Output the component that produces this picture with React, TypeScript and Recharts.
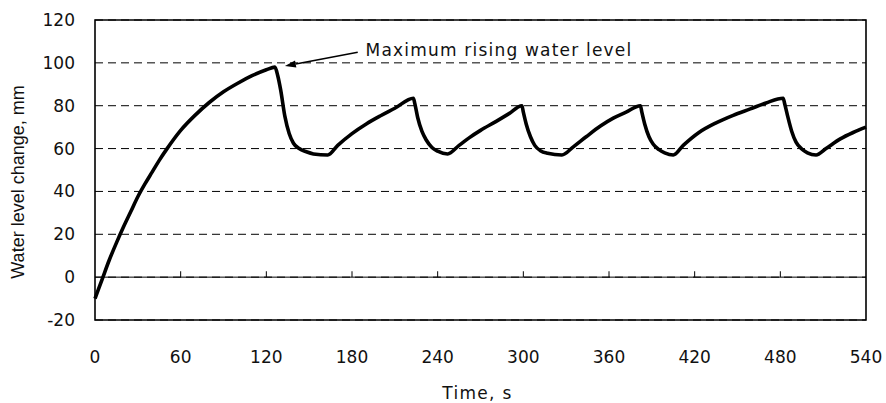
import React from "react";
import {
  LineChart,
  Line,
  XAxis,
  YAxis,
  CartesianGrid,
  ReferenceLine,
  ReferenceArea,
  ReferenceDot,
} from "recharts";

// time (s) and water level change (mm)
const timeS = [
  0, 5, 10, 15, 20, 25, 30, 35, 40, 45, 50, 60, 70, 80, 90, 100, 110, 120, 126,
  128, 130, 133, 136, 139, 143, 148, 153, 163,
  170, 180, 190, 200, 210, 223,
  224, 226, 229, 232, 236, 240, 247,
  255, 262, 270, 281, 290, 299,
  300, 302, 305, 308, 312, 317, 327,
  335, 344, 354, 363, 372, 382,
  383, 385, 388, 391, 395, 399, 405,
  412, 423, 435, 447, 459, 470, 482,
  483, 485, 488, 491, 495, 499, 505,
  512, 522, 531, 540,
];
const levelMm = [
  -10, -1, 8, 16, 23.5, 30.5, 37.5, 43.5, 49, 54.5, 59.5, 68.5, 75.5, 81.5, 86.5, 90.5, 94, 96.8, 98,
  94, 87.5, 75, 67, 62.5, 60, 58.5, 57.5, 57,
  61.5, 67, 71.5, 75.3, 78.8, 83.5,
  81, 74.5, 68, 64, 60.5, 58.8, 57.5,
  61.5, 65, 68.5, 72.7, 76.3, 80,
  77, 71.5, 65.5, 61.5, 59, 57.8, 57,
  60.8, 65.5, 70.5, 74.2, 77, 80,
  77, 71.5, 65.5, 62, 59.5, 58, 57,
  61.5, 67.5, 72, 75.5, 78.5, 81.3, 83.5,
  81, 75.5, 68, 63, 59.8, 58, 57,
  60, 64.5, 67.5, 70,
];

const xTicks = [0, 60, 120, 180, 240, 300, 360, 420, 480, 540];
const yTicks = [-20, 0, 20, 40, 60, 80, 100, 120];

// annotation: arrow from label to the first peak
const peakPoint = { x: 133, y: 98.5 };
const arrowTail = { x: 184, y: 105 };
const noteAnchor = { x: 186, y: 106 };
const noteText = "Maximum rising water level";

const data = timeS.map((t, i) => ({ t, level: levelMm[i] }));

const FONT = "'DejaVu Sans', sans-serif";

const Arrow = (p: any) => {
  const { x1, y1, x2, y2 } = p;
  const ang = Math.atan2(y2 - y1, x2 - x1);
  const len = 11;
  const w = 3.5;
  const bx = x2 - len * Math.cos(ang);
  const by = y2 - len * Math.sin(ang);
  const px = -Math.sin(ang) * w;
  const py = Math.cos(ang) * w;
  return (
    <g>
      <line x1={x1} y1={y1} x2={bx} y2={by} stroke="#000" strokeWidth={1.5} />
      <polygon
        points={`${x2},${y2} ${bx + px},${by + py} ${bx - px},${by - py}`}
        fill="#000"
      />
    </g>
  );
};

const YTitle = () => (
  <text
    x={18}
    y={182}
    transform="rotate(-90 18 182)"
    textAnchor="middle"
    dominantBaseline="central"
    fontFamily="'Liberation Sans', Arial, sans-serif"
    fontSize={18}
    fill="#111"
  >
    Water level change, mm
  </text>
);

export default function App() {
  return (
    <div style={{ position: "absolute", left: 0, top: 0, background: "#fff" }}>
      <LineChart
        width={886}
        height={403}
        data={data}
        margin={{ top: 20, right: 20, left: 0, bottom: 0 }}
      >
        <CartesianGrid
          horizontal
          vertical={false}
          stroke="#000"
          strokeDasharray="8 5"
          strokeWidth={1}
        />
        <XAxis
          dataKey="t"
          type="number"
          domain={[0, 540]}
          ticks={xTicks}
          interval={0}
          height={83}
          axisLine={false}
          tickLine={false}
          tickSize={0}
          tickMargin={31}
          tick={{ fontSize: 17, fill: "#111", fontFamily: FONT }}
          label={{
            value: "Time, s",
            position: "insideBottom",
            offset: 4,
            dx: -3,
            style: { fontSize: 17, fill: "#111", fontFamily: FONT, letterSpacing: 1.3 },
          }}
        />
        <YAxis
          type="number"
          domain={[-20, 120]}
          ticks={yTicks}
          interval={0}
          width={95}
          axisLine={false}
          tickLine={false}
          tickSize={0}
          tickMargin={20}
          tick={{ fontSize: 17, fill: "#111", fontFamily: FONT }}
          label={{ content: YTitle }}
        />
        <ReferenceLine y={0} stroke="#000" strokeWidth={1} />
        {xTicks.slice(1, -1).map((v) => (
          <ReferenceLine
            key={v}
            segment={[{ x: v, y: 0 }, { x: v, y: 2.75 }]}
            stroke="#000"
            strokeWidth={1}
          />
        ))}
        <ReferenceArea
          x1={0}
          x2={540}
          y1={-20}
          y2={120}
          fill="none"
          fillOpacity={0}
          stroke="#000"
          strokeWidth={1.6}
        />
        <Line
          type="monotone"
          dataKey="level"
          stroke="#000"
          strokeWidth={3.6}
          dot={false}
          isAnimationActive={false}
        />
        <ReferenceLine
          segment={[arrowTail, peakPoint]}
          shape={Arrow}
        />
        <ReferenceDot
          x={noteAnchor.x}
          y={noteAnchor.y}
          r={0}
          fill="none"
          stroke="none"
          label={{
            value: noteText,
            position: "right",
            offset: 5,
            style: { fontSize: 17, fill: "#111", fontFamily: FONT, letterSpacing: 1.2 },
          }}
        />
      </LineChart>
    </div>
  );
}
